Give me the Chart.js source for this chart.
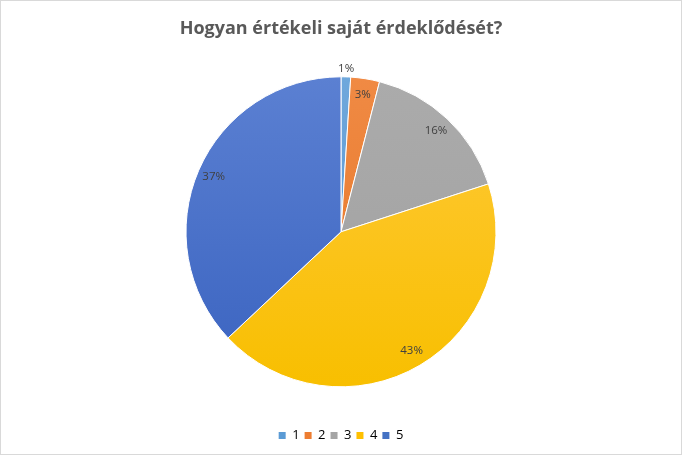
<!DOCTYPE html>
<html>
<head>
<meta charset="utf-8">
<script src="https://cdn.jsdelivr.net/npm/chart.js@4"></script>
<style>
html,body{margin:0;padding:0;background:#fff;}
#wrap{position:absolute;left:0;top:0;width:680px;height:453px;border:1px solid #d9d9d9;}
canvas{display:block;}
</style>
</head>
<body>
<div id="wrap"><canvas id="c" width="680" height="453"></canvas></div>
<script>
const categories = ['1', '2', '3', '4', '5'];
const values = [1, 3, 16, 43, 37];
const percentLabels = ['1%', '3%', '16%', '43%', '37%'];
const baseColors = ['#5B9BD5', '#ED7D31', '#A5A5A5', '#FFC000', '#4472C4'];
const topColors = ['#6FA8DC', '#F08A44', '#ABABAB', '#FFC93A', '#5B80D2'];
const bottomColors = ['#5190CC', '#E57424', '#A0A0A0', '#F8BF00', '#3A63C0'];

const PIE_R = 155;

function sliceFill(ctx) {
  const chart = ctx.chart;
  const area = chart.chartArea;
  const i = ctx.dataIndex;
  if (!area || ctx.type !== 'data') return baseColors[i];
  const cy = (area.top + area.bottom) / 2;
  const g = chart.ctx.createLinearGradient(0, cy - PIE_R, 0, cy + PIE_R);
  g.addColorStop(0, topColors[i]);
  g.addColorStop(1, bottomColors[i]);
  return g;
}

const labelPlugin = {
  id: 'sliceLabels',
  afterDatasetsDraw(chart) {
    const meta = chart.getDatasetMeta(0);
    const c = chart.ctx;
    c.save();
    c.font = '11.5px "Open Sans", Lato, sans-serif';
    c.fillStyle = '#404040';
    c.textAlign = 'center';
    c.textBaseline = 'middle';
    meta.data.forEach((arc, i) => {
      const p = arc.getProps(['x', 'y', 'startAngle', 'endAngle', 'outerRadius'], true);
      const mid = (p.startAngle + p.endAngle) / 2;
      const frac = (p.endAngle - p.startAngle) / (2 * Math.PI);
      const r = frac < 0.02 ? p.outerRadius + 8 : p.outerRadius * 0.895;
      c.fillText(percentLabels[i], p.x + Math.cos(mid) * r, p.y + Math.sin(mid) * r);
    });
    c.restore();
  }
};

new Chart(document.getElementById('c'), {
  type: 'pie',
  data: {
    labels: categories,
    datasets: [{
      data: values,
      backgroundColor: sliceFill,
      borderColor: '#ffffff',
      borderWidth: 1,
      radius: PIE_R
    }]
  },
  options: {
    responsive: false,
    animation: false,
    layout: { padding: { top: 0, bottom: 2, left: 0, right: 0 } },
    plugins: {
      title: {
        display: true,
        text: 'Hogyan értékeli saját érdeklődését?',
        color: '#595959',
        font: { family: '"Open Sans", Lato, sans-serif', size: 18, weight: 'bold' },
        padding: { top: 17, bottom: 0 }
      },
      legend: {
        position: 'bottom',
        labels: {
          color: '#595959',
          font: { family: '"Open Sans", Lato, sans-serif', size: 13 },
          boxWidth: 7,
          boxHeight: 7,
          padding: 5,
          generateLabels(chart) {
            return categories.map((cat, i) => ({
              text: cat,
              fillStyle: baseColors[i],
              strokeStyle: baseColors[i],
              lineWidth: 0,
              index: i,
              hidden: false
            }));
          }
        }
      },
      tooltip: { enabled: false }
    }
  },
  plugins: [labelPlugin]
});
</script>
</body>
</html>
